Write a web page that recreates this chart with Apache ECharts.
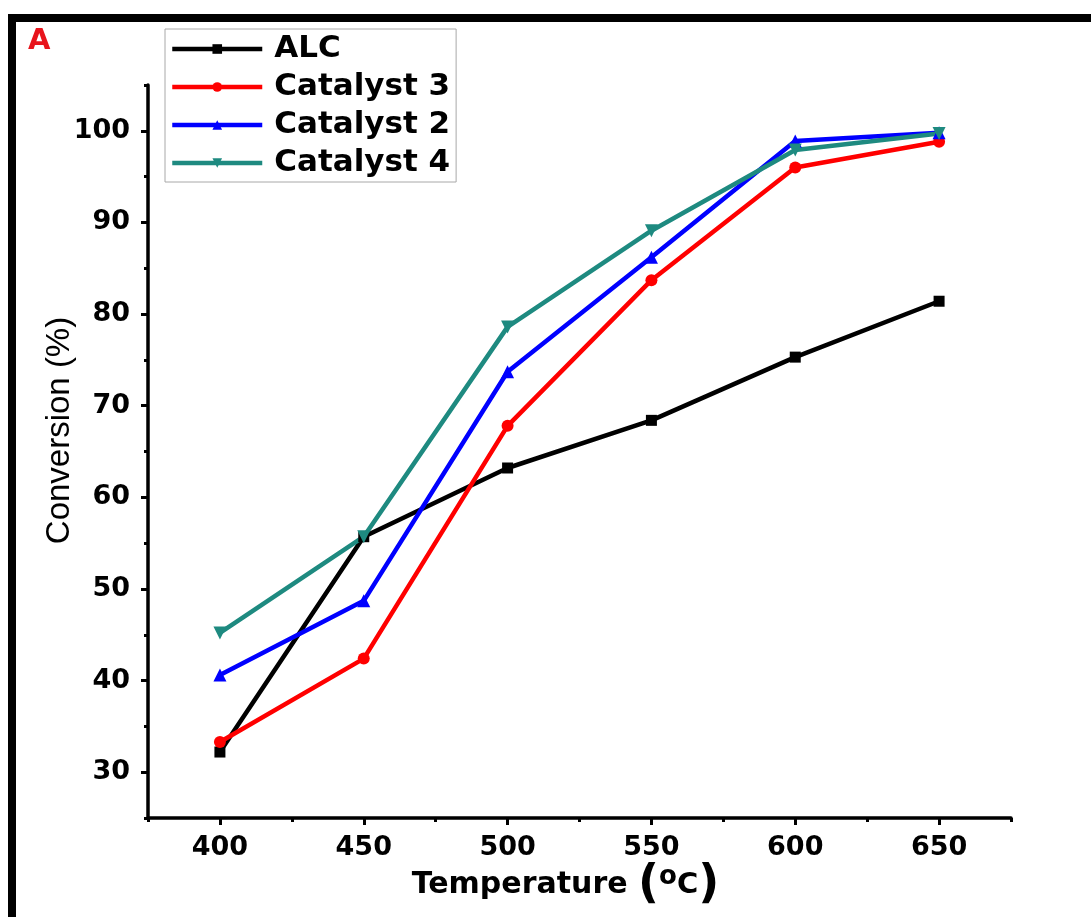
<!DOCTYPE html>
<html>
<head>
<meta charset="utf-8">
<script src="https://cdn.jsdelivr.net/npm/echarts@6/dist/echarts.min.js"></script>
<style>
html,body{margin:0;padding:0;background:#fff;}
#chart{width:1091px;height:917px;}
</style>
</head>
<body>
<div id="chart"></div>
<script>
// ---- data ----
const temperatures = [400, 450, 500, 550, 600, 650];
const alc       = [32.2, 55.7, 63.2, 68.4, 75.3, 81.4];
const catalyst3 = [33.3, 42.4, 67.8, 83.7, 96.0, 98.8];
const catalyst2 = [40.6, 48.7, 73.7, 86.2, 98.9, 99.8];
const catalyst4 = [45.2, 55.7, 78.6, 89.1, 97.9, 99.7];
const seriesNames = ['ALC', 'Catalyst 3', 'Catalyst 2', 'Catalyst 4'];
const xMajorTicks = [400, 450, 500, 550, 600, 650];
const xMinorTicks = [375, 425, 475, 525, 575, 625, 675];
const yMajorTicks = [30, 40, 50, 60, 70, 80, 90, 100];
const yMinorTicks = [25, 35, 45, 55, 65, 75, 85, 95, 105];

const pairs = ys => temperatures.map((t, i) => [t, ys[i]]);

const FONT = 'DejaVu Sans';
const chart = echarts.init(document.getElementById('chart'), null, {renderer: 'canvas'});

const axisLineStyle = {color: '#000', width: 3.5};

const option = {
  backgroundColor: '#fff',
  animation: false,
  grid: {left: 148, right: 80, top: 85, bottom: 99, containLabel: false},
  legend: {
    left: 165, top: 29, orient: 'vertical',
    backgroundColor: '#fff', borderColor: '#a8a8a8', borderWidth: 1,
    padding: [4, 6, 3, 5],
    itemWidth: 90, itemHeight: 12, itemGap: 6,
    lineStyle: {width: 4.5},
    textStyle: {fontFamily: FONT, fontWeight: 'bold', fontSize: 31, color: '#000', lineHeight: 32, padding: [0, 0, 0, 7]},
    data: seriesNames
  },
  xAxis: [
    {
      type: 'value', min: 375, max: 675,
      axisLine: {show: true, lineStyle: axisLineStyle},
      axisTick: {show: true, customValues: xMajorTicks, length: 7, lineStyle: {width: 3, color: '#000'}},
      axisLabel: {customValues: xMajorTicks, margin: 16, fontFamily: FONT, fontWeight: 'bold', fontSize: 27, color: '#000'},
      splitLine: {show: false},
      name: '{t|Temperature }{p|(}{s|o}{c|C}{p|)}',
      nameLocation: 'middle', nameGap: 44, nameMoveOverlap: false,
      nameTextStyle: {
        padding: [0, 28, 0, 0],
        rich: {
          t: {fontFamily: FONT, fontWeight: 'bold', fontSize: 30, color: '#000'},
          p: {fontFamily: FONT, fontWeight: 'bold', fontSize: 46, color: '#000'},
          s: {fontFamily: FONT, fontWeight: 'bold', fontSize: 26, color: '#000', padding: [0, 0, 15, 0]},
          c: {fontFamily: FONT, fontWeight: 'bold', fontSize: 29, color: '#000'}
        }
      }
    },
    {
      type: 'value', min: 375, max: 675, position: 'bottom',
      axisLine: {show: false},
      axisTick: {show: true, customValues: xMinorTicks, length: 4, lineStyle: {width: 3, color: '#000'}},
      axisLabel: {show: false},
      splitLine: {show: false}
    }
  ],
  yAxis: [
    {
      type: 'value', min: 25, max: 105,
      axisLine: {show: true, lineStyle: axisLineStyle},
      axisTick: {show: true, customValues: yMajorTicks, length: 7, lineStyle: {width: 3, color: '#000'}},
      axisLabel: {customValues: yMajorTicks, margin: 18, fontFamily: FONT, fontWeight: 'bold', fontSize: 27, color: '#000'},
      splitLine: {show: false},
      name: 'Conversion (%)',
      nameLocation: 'middle', nameGap: 72, nameRotate: 90, nameMoveOverlap: false,
      nameTextStyle: {fontFamily: 'Liberation Sans', fontSize: 33, color: '#000', padding: [0, 0, 0, 42]}
    },
    {
      type: 'value', min: 25, max: 105, position: 'left',
      axisLine: {show: false},
      axisTick: {show: true, customValues: yMinorTicks, length: 4, lineStyle: {width: 3, color: '#000'}},
      axisLabel: {show: false},
      splitLine: {show: false}
    }
  ],
  graphic: [
    {type: 'rect', left: 8, top: 14, shape: {width: 8, height: 903}, style: {fill: '#000'}, z: 100},
    {type: 'rect', left: 8, top: 14, shape: {width: 1083, height: 8}, style: {fill: '#000'}, z: 100},
    {type: 'text', left: 28, top: 27, style: {text: 'A', fill: '#e8141c', font: 'bold 29px "DejaVu Sans"'}, z: 100}
  ],
  series: [
    {name: seriesNames[0], type: 'line', data: pairs(alc), symbol: 'rect', symbolSize: 11,
     lineStyle: {width: 4.5, color: '#000'}, itemStyle: {color: '#000'}},
    {name: seriesNames[1], type: 'line', data: pairs(catalyst3), symbol: 'circle', symbolSize: 12,
     lineStyle: {width: 4.5, color: '#ff0000'}, itemStyle: {color: '#ff0000'}},
    {name: seriesNames[2], type: 'line', data: pairs(catalyst2), symbol: 'triangle', symbolSize: 13,
     lineStyle: {width: 4.5, color: '#0000ff'}, itemStyle: {color: '#0000ff'}},
    {name: seriesNames[3], type: 'line', data: pairs(catalyst4), symbol: 'triangle', symbolRotate: 180, symbolSize: 13,
     lineStyle: {width: 4.5, color: '#1e8a80'}, itemStyle: {color: '#1e8a80'}}
  ]
};
chart.setOption(option);
</script>
</body>
</html>
